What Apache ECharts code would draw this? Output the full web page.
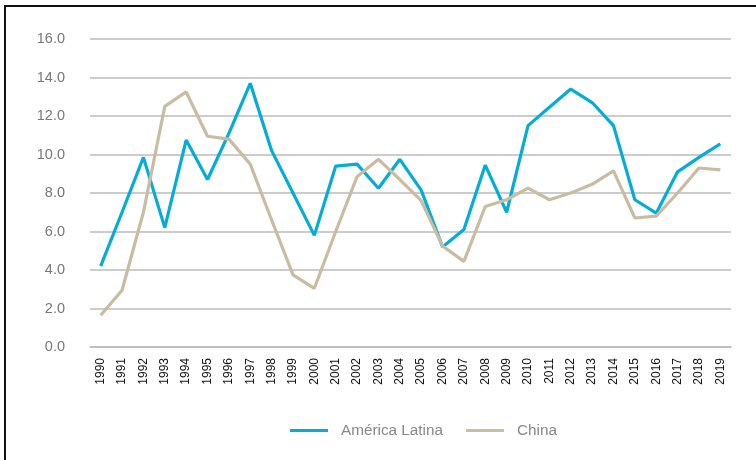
<!DOCTYPE html>
<html>
<head>
<meta charset="utf-8">
<script src="https://cdn.jsdelivr.net/npm/echarts@6/dist/echarts.min.js"></script>
<style>
  html, body { margin: 0; padding: 0; background: #fff; }
  #wrap { position: relative; width: 756px; height: 460px; overflow: hidden; }
  #frame { position: absolute; left: 4px; top: 5px; width: 800px; height: 500px;
           border-top: 2px solid #111; border-left: 2px solid #111; }
  #chart { position: absolute; left: 0; top: 0; width: 756px; height: 460px; }
</style>
</head>
<body>
<div id="wrap">
  <div id="frame"></div>
  <div id="chart"></div>
</div>
<script>
const years = ['1990','1991','1992','1993','1994','1995','1996','1997','1998','1999',
               '2000','2001','2002','2003','2004','2005','2006','2007','2008','2009',
               '2010','2011','2012','2013','2014','2015','2016','2017','2018','2019']

const americaLatina = [4.2, 7.0, 9.85, 6.2, 10.75, 8.7, 11.1, 13.7, 10.2, 8.0,
                       5.8, 9.4, 9.5, 8.25, 9.75, 8.15, 5.2, 6.1, 9.45, 7.0,
                       11.5, 12.45, 13.4, 12.7, 11.5, 7.65, 6.95, 9.1, 9.85, 10.55]

const china = [1.65, 2.95, 7.0, 12.5, 13.25, 10.95, 10.8, 9.5, 6.6, 3.75,
               3.05, 6.0, 8.85, 9.75, 8.7, 7.6, 5.25, 4.45, 7.3, 7.65,
               8.25, 7.65, 8.0, 8.45, 9.15, 6.7, 6.8, 8.0, 9.3, 9.2]

const chart = echarts.init(document.getElementById('chart'))

chart.setOption({
  animation: false,
  grid: { left: 90, right: 25, top: 39, bottom: 113 },
  legend: {
    bottom: 17,
    left: 285,
    itemWidth: 38,
    itemHeight: 3,
    itemGap: 23,
    icon: 'rect',
    textStyle: { color: '#888', fontSize: 15.3, fontFamily: 'Liberation Sans', padding: [0, 0, 0, 8] },
    data: ['América Latina', 'China']
  },
  xAxis: {
    type: 'category',
    data: years,
    boundaryGap: true,
    axisLine: { show: true, lineStyle: { color: '#bbb', width: 1.5 } },
    axisTick: { show: false },
    axisLabel: { rotate: 90, margin: 11, color: '#111', fontSize: 12, fontFamily: 'Liberation Sans', interval: 0 }
  },
  yAxis: {
    type: 'value',
    min: 0,
    max: 16,
    interval: 2,
    axisLine: { show: false },
    axisTick: { show: false },
    axisLabel: { color: '#777', fontSize: 14.5, fontFamily: 'Liberation Sans', margin: 25,
                 formatter: v => v.toFixed(1) },
    splitLine: { lineStyle: { color: '#bbb', width: 1.5 } }
  },
  series: [
    {
      name: 'América Latina',
      type: 'line',
      data: americaLatina,
      showSymbol: false,
      lineStyle: { color: '#04acd8', width: 3.2 },
      itemStyle: { color: '#04acd8' }
    },
    {
      name: 'China',
      type: 'line',
      data: china,
      showSymbol: false,
      lineStyle: { color: '#c9bca2', width: 3.2 },
      itemStyle: { color: '#c9bca2' }
    }
  ]
})
</script>
</body>
</html>
